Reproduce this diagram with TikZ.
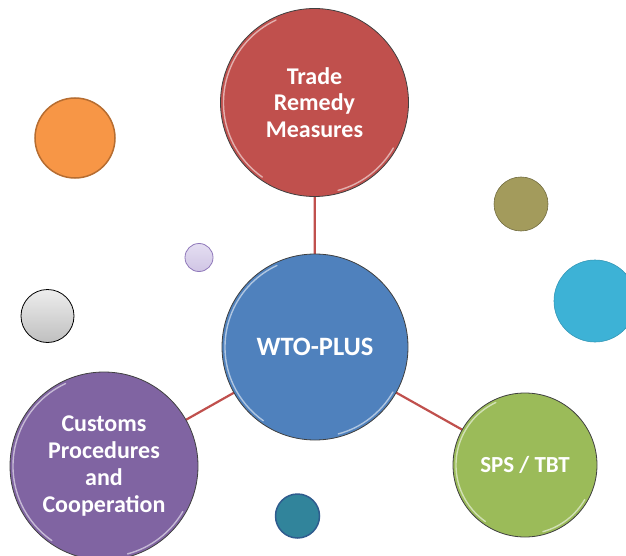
\documentclass[tikz,border=0pt]{standalone}
\usepackage{fontspec}
\setmainfont{Carlito}
\definecolor{cred}{HTML}{C0504D}
\definecolor{cblue}{HTML}{4F81BD}
\definecolor{cpurple}{HTML}{8064A2}
\definecolor{cgreen}{HTML}{9BBB59}
\definecolor{corange}{HTML}{F79646}
\definecolor{corangeb}{HTML}{B66D31}
\definecolor{colive}{HTML}{A39B5C}
\definecolor{ccyan}{HTML}{3DB2D6}
\definecolor{clav}{HTML}{D9D0EC}
\definecolor{clavb}{HTML}{8F78BA}
\definecolor{cteal}{HTML}{31849B}
\definecolor{ctealb}{HTML}{2F5C8E}
\tikzset{
  bigball/.style={circle, draw=black!75, line width=0.8pt, inner sep=0pt,
    text=white, align=center, font=\bfseries\fontsize{24}{26.7}\selectfont},
  dot/.style={circle, inner sep=0pt},
  link/.style={draw=cred, line width=2.2pt},
  gloss/.style={white, opacity=0.55, line width=1.4pt, line cap=round}
}
\newcommand{\glossy}[3]{% center x, center y, radius
  \draw[gloss] ($(#1,#2)+(115:#3-3)$) arc[start angle=115, end angle=235, radius=#3-3];
  \draw[gloss] ($(#1,#2)+(-75:#3-3)$) arc[start angle=-75, end angle=-30, radius=#3-3];
}
\usetikzlibrary{calc}
\begin{document}
\begin{tikzpicture}[x=1pt,y=-1pt]
\useasboundingbox (0,0) rectangle (626,556);
\clip (0,0) rectangle (626,556);
% connectors
\coordinate (cWTO) at (315,347);
\coordinate (cTRM) at (314.5,102.5);
\coordinate (cCUS) at (104,466);
\coordinate (cSPS) at (525,465);
\draw[link] (cWTO) -- (cTRM);
\draw[link] (cWTO) -- (cCUS);
\draw[link] (cWTO) -- (cSPS);
% big circles
\node[bigball, fill=cred, minimum size=188pt] (trm) at (cTRM) {Trade\\Remedy\\Measures};
\glossy{314.5}{102.5}{94pt}
\node[bigball, fill=cblue, minimum size=186pt, font=\bfseries\fontsize{26.5}{30}\selectfont] (wto) at (cWTO) {WTO-PLUS};
\glossy{315}{347}{93pt}
\node[bigball, fill=cpurple, minimum size=188pt] (cus) at (cCUS) {Customs\\Procedures\\and\\Cooperation};
\glossy{104}{466}{94pt}
\node[bigball, fill=cgreen, minimum size=144pt, font=\bfseries\fontsize{23}{26.7}\selectfont] (sps) at (cSPS) {SPS / TBT};
\glossy{525}{465}{72pt}
% small decorative circles
\node[dot, fill=corange, draw=corangeb, line width=1.5pt, minimum size=80pt] (orange) at (75,138) {};
\node[dot, top color=black!7, bottom color=black!25, draw=black, line width=0.8pt, minimum size=53pt] (grey) at (47.5,316) {};
\node[dot, fill=colive, draw=colive!70!black, line width=0.6pt, minimum size=54pt] (olive) at (521,204) {};
\node[dot, fill=ccyan, draw=ccyan!85!black, line width=0.6pt, minimum size=82pt] (cyan) at (595,301) {};
\node[dot, top color=clav!70!white, bottom color=clav!90!cpurple, draw=clavb, line width=0.8pt, minimum size=28pt] (lav) at (199,257.5) {};
\node[dot, fill=cteal, draw=ctealb, line width=1.5pt, minimum size=44pt] (teal) at (297.5,516) {};
\end{tikzpicture}
\end{document}
